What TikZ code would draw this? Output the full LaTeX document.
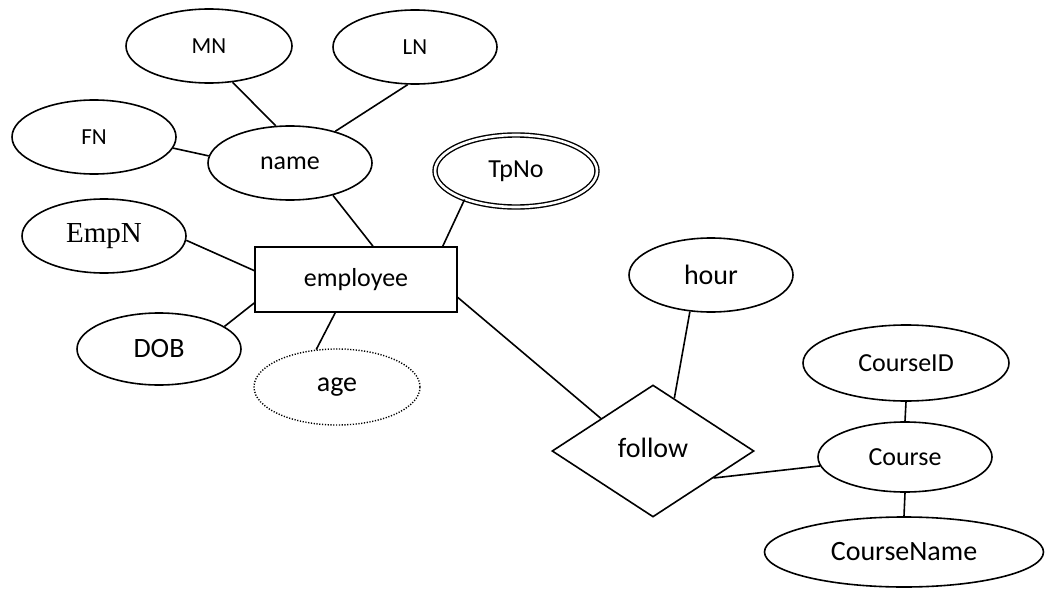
\documentclass[tikz,border=0pt]{standalone}
\usepackage{fontspec}
\setmainfont{Carlito}
\newfontfamily\tnr{Liberation Serif}
\usetikzlibrary{shapes.geometric}
\begin{document}
\begin{tikzpicture}[x=1pt,y=-1pt,
  attr/.style={ellipse,draw,line width=1.6pt,inner sep=0pt,minimum width=164pt,minimum height=74pt},
  fsmall/.style={font=\fontsize{23}{27}\selectfont},
  fmid/.style={font=\fontsize{26}{30}\selectfont},
  fbig/.style={font=\fontsize{28}{32}\selectfont},
  entity/.style={rectangle,draw,line width=1.6pt,inner sep=0pt,minimum width=202pt,minimum height=65pt},
  rel/.style={diamond,draw,line width=1.6pt,inner sep=0pt,minimum width=202pt,minimum height=132pt},
  multi/.style={attr,double=white,double distance=2.6pt,line width=1.4pt,minimum width=162pt,minimum height=72pt},
  derived/.style={attr,line width=1.4pt,dash pattern=on 1.2pt off 1.6pt},
  conn/.style={line width=1.6pt}]
\useasboundingbox (0,0) rectangle (1045,589);
\node[attr,fsmall,minimum width=166pt] (MN) at (209,46) {MN};
\node[attr,fsmall] (LN) at (415,47) {LN};
\node[attr,fsmall] (FN) at (94,137) {FN};
\node[attr,fmid] (name) at (290,163) {\raisebox{-2pt}{name}};
\node[multi,fmid] (TpNo) at (516,171) {\raisebox{-1pt}{TpNo}};
\node[attr,font=\tnr\fontsize{29}{33}\selectfont] (EmpN) at (104,236) {EmpN};
\node[entity,fmid] (employee) at (356,279.5) {\raisebox{1pt}{employee}};
\node[attr,fbig,minimum height=72pt] (DOB) at (159,349) {DOB};
\node[derived,fbig,minimum width=166pt,minimum height=76pt] (age) at (337,387) {age};
\node[attr,fbig] (hour) at (711,275) {hour};
\node[rel,fbig] (follow) at (653,451) {\raisebox{7pt}{follow}};
\node[attr,fmid,minimum width=206pt,minimum height=76pt] (CourseID) at (906,363) {CourseID};
\node[attr,fmid,minimum width=174pt,minimum height=70pt] (Course) at (905,457) {Course};
\node[attr,fbig,minimum width=279pt,minimum height=70pt] (CourseName) at (904,552) {CourseName};

\draw[conn] (MN.303) -- (name.111);
\draw[conn] (LN.259) -- (name.35);
\draw[conn] (FN.352) -- (name.175);
\draw[conn] (name.323) -- (employee.63.8);
\draw[conn] (TpNo.209.6) -- (employee.21.9);
\draw[conn] (EmpN.357) -- (employee.175.8);
\draw[conn] (DOB.19) -- (employee.193);
\draw[conn] (age.119.6) -- (employee.238.4);
\draw[conn] (employee.350.7) -- (follow.148);
\draw[conn] (hour.240.4) -- (follow.68.4);
\draw[conn] (follow.336.6) -- (Course.186);
\draw[conn] (CourseID.south) -- (Course.north);
\draw[conn] (Course.south) -- (CourseName.north);
\end{tikzpicture}
\end{document}
